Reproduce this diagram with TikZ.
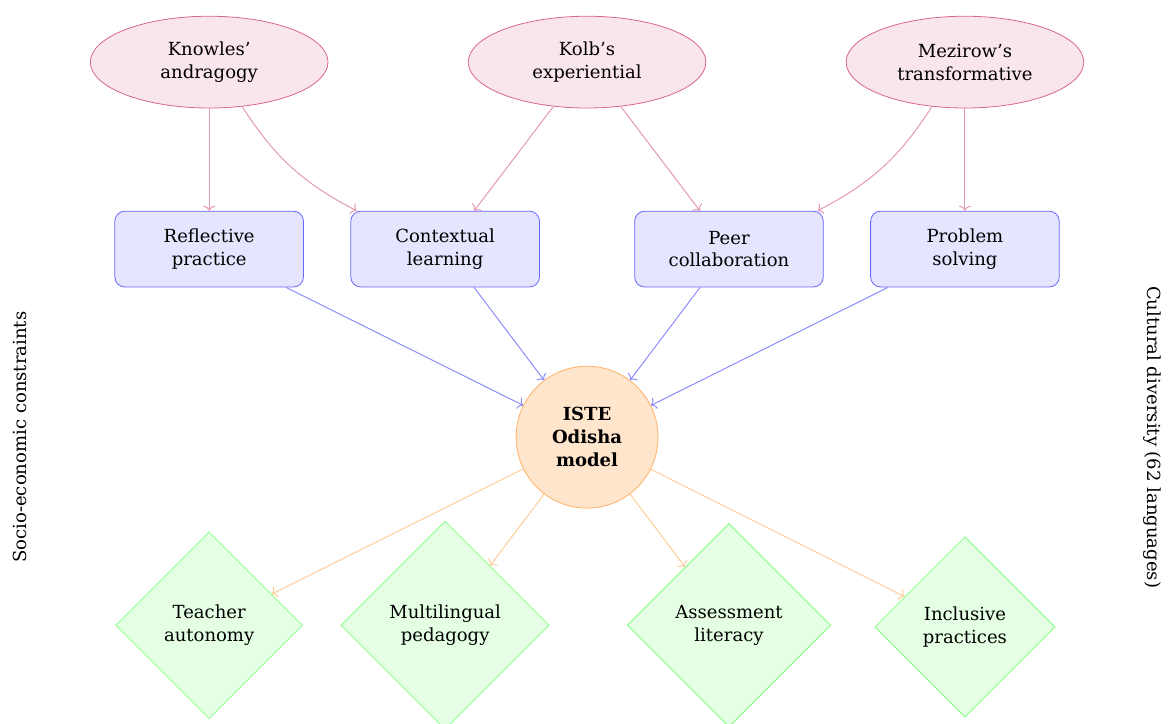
\documentclass[tikz,border=0pt]{standalone}
\usepackage{fontspec}
\setmainfont{DejaVu Serif}
\usetikzlibrary{shapes.geometric,arrows.meta}

\tikzset{
  every node/.style={font=\fontsize{9}{11.4}\selectfont},
  theory/.style={ellipse,draw=purple!60,fill=purple!10,minimum width=4.17cm,minimum height=1.61cm,align=center},
  practice/.style={rectangle,rounded corners=5pt,draw=blue!60,fill=blue!10,minimum width=3.31cm,minimum height=1.33cm,align=center},
  core/.style={circle,draw=orange!60,fill=orange!20,minimum size=2.49cm,align=center,font=\fontsize{9}{11.4}\selectfont\bfseries},
  outcome/.style={diamond,aspect=1,draw=green!50,fill=green!10,align=center,inner sep=7pt},
  theoryarrow/.style={-{To[width=6pt,length=2.5pt]},line width=0.5pt,draw=purple!40},
  practicearrow/.style={-{To[width=6pt,length=2.5pt]},line width=0.5pt,draw=blue!45},
  corearrow/.style={-{To[width=6pt,length=2.5pt]},line width=0.5pt,draw=orange!40}
}

\begin{document}
\begin{tikzpicture}

\useasboundingbox (-10.30, -5.03) rectangle (10.21, 7.67);

\node[theory] (knowles) at (-6.63, 6.58) {Knowles’\\andragogy};
\node[theory] (kolb) at (0, 6.58) {Kolb’s\\experiential};
\node[theory] (mezirow) at (6.63, 6.58) {Mezirow’s\\transformative};

\node[practice] (reflective) at (-6.63, 3.30) {Reflective\\practice};
\node[practice] (contextual) at (-2.49, 3.30) {Contextual\\learning};
\node[practice] (peer) at (2.49, 3.30) {Peer\\collaboration};
\node[practice] (problem) at (6.63, 3.30) {Problem\\solving};

\node[core] (iste) at (0, 0) {ISTE\\Odisha\\model};

\node[outcome] (teacher) at (-6.63, -3.30) {Teacher\\autonomy};
\node[outcome] (multilingual) at (-2.49, -3.30) {Multilingual\\pedagogy};
\node[outcome] (assessment) at (2.49, -3.30) {Assessment\\literacy};
\node[outcome] (inclusive) at (6.63, -3.33) {Inclusive\\practices};

\node[rotate=90] (socio) at (-9.95, 0) {Socio-economic constraints};
\node[rotate=-90] (cultural) at (9.91, 0) {Cultural diversity (62 languages)};

\draw[theoryarrow] (knowles) -- (reflective);
\draw[theoryarrow] (knowles) to[bend right=15] (contextual);
\draw[theoryarrow] (kolb) -- (contextual);
\draw[theoryarrow] (kolb) -- (peer);
\draw[theoryarrow] (mezirow) to[bend left=15] (peer);
\draw[theoryarrow] (mezirow) -- (problem);

\draw[practicearrow] (reflective) -- (iste);
\draw[practicearrow] (contextual) -- (iste);
\draw[practicearrow] (peer) -- (iste);
\draw[practicearrow] (problem) -- (iste);

\draw[corearrow] (iste) -- (teacher);
\draw[corearrow] (iste) -- (multilingual);
\draw[corearrow] (iste) -- (assessment);
\draw[corearrow] (iste) -- (inclusive);

\end{tikzpicture}
\end{document}
